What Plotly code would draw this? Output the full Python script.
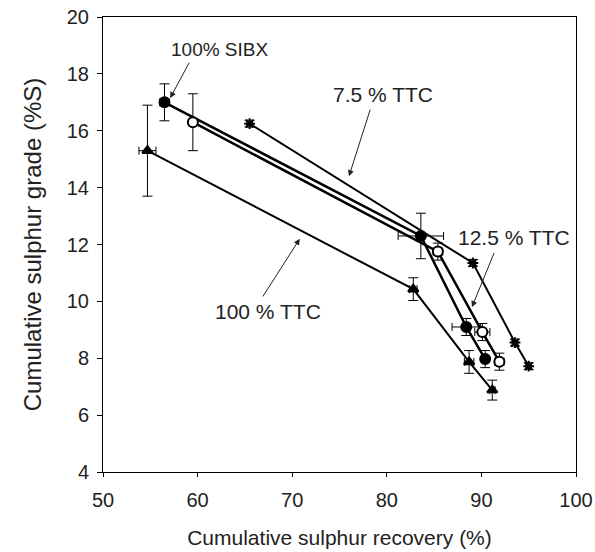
import plotly.graph_objects as go

# Cumulative grade-recovery data for four collector systems
sibx_rec = [56.5, 83.6, 88.4, 90.4]
sibx_grade = [17.0, 12.3, 9.1, 7.97]
sibx_rec_err = [0.5, 2.4, 1.5, 0.4]
sibx_grade_err = [0.65, 0.8, 0.3, 0.3]

ttc125_rec = [59.5, 85.4, 90.1, 91.9]
ttc125_grade = [16.3, 11.75, 8.92, 7.88]
ttc125_rec_err = [0.4, 0.5, 0.8, 0.5]
ttc125_grade_err = [1.0, 0.3, 0.3, 0.3]

ttc75_rec = [65.5, 89.1, 93.55, 95.0]
ttc75_grade = [16.25, 11.35, 8.55, 7.72]
ttc75_rec_err = [0.3, 0.3, 0.3, 0.3]
ttc75_grade_err = [0.12, 0.12, 0.12, 0.12]

ttc100_rec = [54.7, 82.8, 88.7, 91.15]
ttc100_grade = [15.3, 10.43, 7.87, 6.88]
ttc100_rec_err = [0.9, 0.4, 0.5, 0.3]
ttc100_grade_err = [1.6, 0.4, 0.4, 0.35]

FONT = "Liberation Sans, Arial, sans-serif"
INK = "#222"

fig = go.Figure()


def add_series(xv, yv, xe, ye, symbol, fill, size=10, lw=2):
    fig.add_trace(go.Scatter(
        x=xv, y=yv, mode="lines+markers",
        line=dict(color="black", width=lw),
        marker=dict(symbol=symbol, size=size, color=fill,
                    line=dict(color="black", width=2)),
        error_x=dict(type="data", array=xe, color="black", thickness=1, width=4),
        error_y=dict(type="data", array=ye, color="black", thickness=1, width=5),
        showlegend=False,
    ))


add_series(ttc100_rec, ttc100_grade, ttc100_rec_err, ttc100_grade_err, "triangle-up", "black", 9)
add_series(ttc75_rec, ttc75_grade, ttc75_rec_err, ttc75_grade_err, "asterisk", "black", 9)
add_series(sibx_rec, sibx_grade, sibx_rec_err, sibx_grade_err, "circle", "black", 10, 2.5)
add_series(ttc125_rec, ttc125_grade, ttc125_rec_err, ttc125_grade_err, "circle", "white", 10, 2.5)

# labels with pointer arrows: text, text position, arrow tail, arrow head, font size
labels = [
    ("100% SIBX", 62.3, 18.85, 59.2, 18.45, 57.1, 17.15, 19),
    ("7.5 % TTC", 79.6, 17.26, 78.3, 16.8, 76.0, 14.4, 21),
    ("12.5 % TTC", 93.4, 12.26, 91.4, 11.75, 89.0, 9.8, 21),
    ("100 % TTC", 67.4, 9.63, 66.8, 10.12, 70.8, 12.2, 21),
]
for text, tx, ty, ax, ay, hx, hy, fs in labels:
    fig.add_annotation(x=tx, y=ty, text=text, showarrow=False,
                       font=dict(family=FONT, size=fs, color=INK))
    fig.add_annotation(x=hx, y=hy, ax=ax, ay=ay, axref="x", ayref="y",
                       text="", showarrow=True, arrowhead=2, arrowsize=1.2,
                       arrowwidth=1, arrowcolor=INK)

fig.update_xaxes(
    range=[50, 100], dtick=10, tick0=50,
    showline=True, linecolor="black", linewidth=1, mirror=True,
    ticks="outside", ticklen=4, tickcolor="black", ticklabelstandoff=6,
    showgrid=False, zeroline=False, automargin=False,
    title=dict(text="Cumulative sulphur recovery (%)",
               font=dict(family=FONT, size=21, color=INK), standoff=20),
    tickfont=dict(family=FONT, size=20, color=INK),
)
fig.update_yaxes(
    range=[4, 20], dtick=2, tick0=4,
    showline=True, linecolor="black", linewidth=1, mirror=True,
    ticks="outside", ticklen=5, tickcolor="black", ticklabelstandoff=4,
    showgrid=False, zeroline=False, automargin=False,
    title=dict(text="Cumulative sulphur grade (%S)",
               font=dict(family=FONT, size=24, color=INK), standoff=18),
    tickfont=dict(family=FONT, size=20, color=INK),
)

fig.update_layout(
    width=595, height=552,
    margin=dict(l=103, r=19, t=17, b=80),
    paper_bgcolor="white", plot_bgcolor="white",
    showlegend=False,
)

fig.write_html("out.html")
